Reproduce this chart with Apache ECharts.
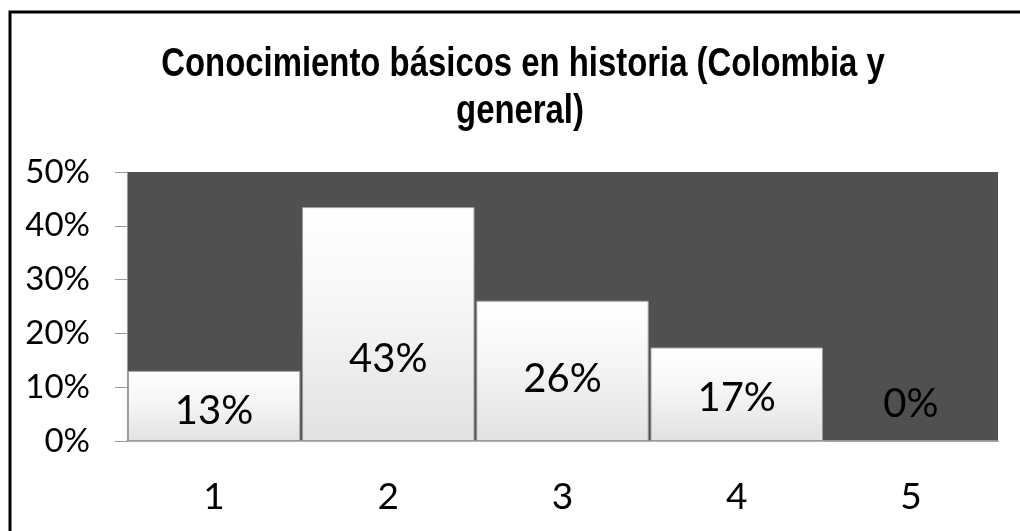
<!DOCTYPE html>
<html>
<head>
<meta charset="utf-8">
<script src="https://cdn.jsdelivr.net/npm/echarts@6/dist/echarts.min.js"></script>
<style>
  html, body { margin: 0; padding: 0; background: #fff; overflow: hidden; }
  #main { width: 1020px; height: 531px; }
</style>
</head>
<body>
<div id="main"></div>
<script>
// valores (porcentaje)
var categorias = ['1', '2', '3', '4', '5'];
var porcentajes = [13.04, 43.48, 26.09, 17.39, 0];
var ticksY = [0, 10, 20, 30, 40, 50];

// desplazamiento vertical de cada etiqueta (px), como en el original
var ajusteEtiqueta = [5, 35, 8, 4, -37];

var myChart = echarts.init(document.getElementById('main'));

var barras = porcentajes.map(function (v, i) {
    return { value: v, label: { offset: [0, ajusteEtiqueta[i]] } };
});

var fuenteTitulo = 'bold 40px "Liberation Sans", Arial, sans-serif';

var option = {
    animation: false,
    grid: {
        left: 127, right: 22, top: 172, bottom: 90,
        show: true, backgroundColor: '#505050', borderWidth: 0
    },
    graphic: [
        {
            type: 'rect',
            shape: { x: 10, y: 12, width: 2000, height: 2000 },
            style: { fill: 'none', stroke: '#000', lineWidth: 3 },
            silent: true
        },
        {
            type: 'text', x: 523, y: 85, scaleX: 0.822,
            style: {
                text: 'Conocimiento básicos en historia (Colombia y',
                font: fuenteTitulo, fill: '#000', align: 'center', verticalAlign: 'bottom'
            }
        },
        {
            type: 'text', x: 520, y: 132, scaleX: 0.822,
            style: {
                text: 'general)',
                font: fuenteTitulo, fill: '#000', align: 'center', verticalAlign: 'bottom'
            }
        }
    ],
    xAxis: {
        type: 'category',
        data: categorias,
        axisLine: { lineStyle: { color: '#9a9a9a', width: 1.5 } },
        axisTick: { show: false },
        axisLabel: { color: '#000', fontFamily: 'Lato', fontSize: 37, margin: 38 }
    },
    yAxis: {
        type: 'value',
        min: ticksY[0], max: ticksY[ticksY.length - 1], interval: 10,
        splitLine: { show: false },
        axisLine: { show: true, lineStyle: { color: '#9a9a9a', width: 1 } },
        axisTick: { show: true, length: 12, lineStyle: { color: '#9a9a9a' } },
        axisLabel: {
            color: '#000', fontFamily: 'Lato', fontSize: 33, margin: 37,
            formatter: '{value}%'
        }
    },
    series: [{
        type: 'bar',
        data: barras,
        barCategoryGap: '1%',
        itemStyle: {
            color: new echarts.graphic.LinearGradient(0, 0, 0, 1, [
                { offset: 0, color: '#ffffff' },
                { offset: 0.4, color: '#f7f7f7' },
                { offset: 1, color: '#e2e2e2' }
            ]),
            borderColor: '#9c9c9c',
            borderWidth: 1
        },
        label: {
            show: true,
            position: 'inside',
            color: '#000',
            fontFamily: 'Lato',
            fontSize: 40,
            formatter: function (p) { return Math.round(p.value) + '%'; }
        }
    }]
};

myChart.setOption(option);
</script>
</body>
</html>
